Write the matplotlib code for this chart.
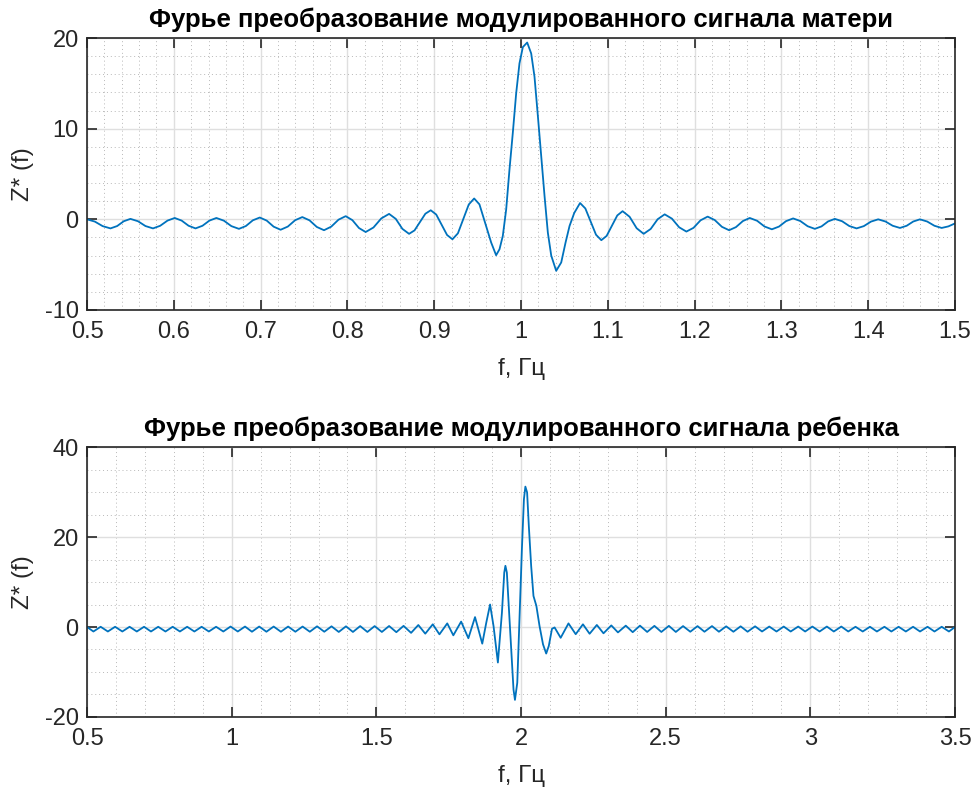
import numpy as np
import matplotlib
matplotlib.use('Agg')
import matplotlib.pyplot as plt
from matplotlib.ticker import MultipleLocator

plt.rcParams['font.family'] = ['Liberation Sans', 'DejaVu Sans']
plt.rcParams['axes.unicode_minus'] = False

# values
f_mother = [0.500, 0.509, 0.518, 0.527, 0.5347, 0.5423, 0.550, 0.5587, 0.5673, 0.576,
            0.5843, 0.5927, 0.601, 0.609, 0.617, 0.625, 0.633, 0.641, 0.649, 0.6577,
            0.6663, 0.675, 0.683, 0.691, 0.699, 0.707, 0.715, 0.723, 0.7313, 0.7397,
            0.748, 0.7563, 0.7647, 0.773, 0.7813, 0.7897, 0.798, 0.8057, 0.8133, 0.821,
            0.830, 0.839, 0.848, 0.8557, 0.8633, 0.871, 0.8773, 0.8835, 0.8898, 0.896,
            0.9023, 0.9085, 0.9148, 0.921, 0.9273, 0.9335, 0.9398, 0.946, 0.9521, 0.9598,
            0.9656, 0.9713, 0.9752, 0.979, 0.9829, 0.9867, 0.9905, 0.9944, 0.9982, 1.0021,
            1.0071, 1.0117, 1.0155, 1.0194, 1.0232, 1.0271, 1.0309, 1.0348, 1.0405, 1.0463,
            1.0513, 1.0559, 1.0613, 1.068, 1.0741, 1.0803, 1.0864, 1.0925, 1.0986, 1.1048,
            1.1109, 1.117, 1.1251, 1.1332, 1.1413, 1.1494, 1.1574, 1.1655, 1.1738, 1.1822,
            1.1905, 1.1987, 1.2068, 1.215, 1.2232, 1.2315, 1.2397, 1.2476, 1.2556, 1.2635,
            1.272, 1.2805, 1.289, 1.2972, 1.3053, 1.3135, 1.3218, 1.3302, 1.3385, 1.3462,
            1.3538, 1.3615, 1.3699, 1.3782, 1.3866, 1.3949, 1.4032, 1.4115, 1.4199, 1.4282,
            1.4366, 1.4443, 1.4519, 1.4596, 1.4679, 1.4763, 1.4846, 1.4923, 1.500]
z_mother = [0.0, -0.25, -0.75, -1.0, -0.74, -0.21, 0.05, -0.21, -0.74, -1.0,
            -0.71, -0.14, 0.15, -0.14, -0.71, -1.0, -0.71, -0.14, 0.15, -0.15,
            -0.75, -1.05, -0.74, -0.11, 0.2, -0.14, -0.81, -1.15, -0.80, -0.10,
            0.25, -0.11, -0.84, -1.2, -0.81, -0.04, 0.35, -0.09, -0.96, -1.4,
            -0.9, 0.1, 0.6, 0.05, -1.05, -1.6, -1.22, -0.3, 0.62, 1.0,
            0.53, -0.6, -1.73, -2.2, -1.54, 0.05, 1.64, 2.3, 1.65, -0.73,
            -2.56, -3.96, -3.3, -1.83, 1.1, 5.5, 9.5, 13.9, 17.2, 19.0,
            19.5, 18.3, 15.75, 11.4, 7.0, 2.56, -1.47, -4.0, -5.68, -4.76,
            -2.56, -0.73, 0.7, 1.8, 1.2, -0.25, -1.7, -2.3, -1.83, -0.7,
            0.43, 0.9, 0.28, -0.98, -1.6, -1.06, 0.01, 0.55, 0.08, -0.88,
            -1.35, -0.94, -0.11, 0.3, -0.08, -0.83, -1.2, -0.86, -0.19, 0.15,
            -0.16, -0.79, -1.1, -0.8, -0.2, 0.1, -0.19, -0.76, -1.05, -0.78,
            -0.23, 0.05, -0.21, -0.74, -1.0, -0.75, -0.25, 0.0, -0.24, -0.71,
            -0.95, -0.71, -0.24, 0.0, -0.24, -0.71, -0.95, -0.78, -0.45]

f_child = [0.500, 0.522, 0.547, 0.572, 0.597, 0.622, 0.647, 0.672, 0.697, 0.721,
           0.746, 0.771, 0.796, 0.821, 0.846, 0.871, 0.896, 0.921, 0.946, 0.971,
           0.996, 1.021, 1.046, 1.070, 1.095, 1.120, 1.145, 1.170, 1.195, 1.220,
           1.245, 1.270, 1.295, 1.320, 1.345, 1.370, 1.395, 1.419, 1.444, 1.469,
           1.494, 1.519, 1.544, 1.569, 1.594, 1.620, 1.645, 1.669, 1.695, 1.718,
           1.745, 1.766, 1.793, 1.818, 1.841, 1.866, 1.880, 1.893, 1.905, 1.920,
           1.934, 1.942, 1.946, 1.951, 1.955, 1.966, 1.974, 1.979, 1.987, 1.995,
           2.003, 2.010, 2.015, 2.021, 2.027, 2.035, 2.043, 2.053, 2.064, 2.076,
           2.087, 2.096, 2.107, 2.116, 2.137, 2.164, 2.189, 2.214, 2.237, 2.262,
           2.285, 2.312, 2.335, 2.362, 2.386, 2.411, 2.436, 2.461, 2.485, 2.511,
           2.535, 2.560, 2.585, 2.610, 2.634, 2.660, 2.684, 2.709, 2.734, 2.759,
           2.783, 2.809, 2.833, 2.858, 2.883, 2.908, 2.932, 2.958, 2.982, 3.007,
           3.032, 3.057, 3.081, 3.107, 3.131, 3.156, 3.181, 3.206, 3.230, 3.256,
           3.280, 3.305, 3.330, 3.355, 3.379, 3.405, 3.429, 3.454, 3.479, 3.500]
z_child = [0.0, -1.0, 0.05, -1.0, 0.05, -1.0, 0.05, -1.0, 0.05, -1.0,
           0.05, -1.0, 0.05, -1.0, 0.05, -1.0, 0.05, -1.0, 0.05, -1.0,
           0.1, -1.0, 0.1, -1.05, 0.1, -1.05, 0.1, -1.05, 0.1, -1.05,
           0.1, -1.05, 0.15, -1.05, 0.15, -1.1, 0.15, -1.1, 0.2, -1.1,
           0.2, -1.1, 0.22, -1.15, 0.25, -1.3, 0.44, -1.48, 0.6, -1.63,
           0.8, -1.85, 1.2, -2.5, 2.2, -3.7, 1.0, 5.0, 0.2, -7.9,
           3.2, 12.1, 13.6, 12.1, 7.6, -5.0, -13.9, -16.2, -12.4, 2.4,
           17.3, 28.4, 31.2, 29.9, 22.4, 13.6, 6.9, 4.7, 0.2, -3.85,
           -5.9, -4.2, -0.4, -0.1, -2.4, 0.8, -1.6, 0.6, -1.5, 0.45,
           -1.4, 0.35, -1.2, 0.3, -1.15, 0.3, -1.1, 0.25, -1.1, 0.25,
           -1.1, 0.2, -1.05, 0.2, -1.05, 0.2, -1.05, 0.15, -1.05, 0.15,
           -1.05, 0.15, -1.0, 0.1, -1.0, 0.1, -1.0, 0.1, -1.0, 0.1,
           -1.0, 0.1, -1.0, 0.1, -1.0, 0.05, -1.0, 0.05, -1.0, 0.05,
           -1.0, 0.05, -1.0, 0.05, -1.0, 0.05, -1.0, 0.05, -1.0, 0.0]

xt_mother = [0.5, 0.6, 0.7, 0.8, 0.9, 1.0, 1.1, 1.2, 1.3, 1.4, 1.5]
xl_mother = ['0.5', '0.6', '0.7', '0.8', '0.9', '1', '1.1', '1.2', '1.3', '1.4', '1.5']
yt_mother = [-10, 0, 10, 20]
xt_child = [0.5, 1, 1.5, 2, 2.5, 3, 3.5]
xl_child = ['0.5', '1', '1.5', '2', '2.5', '3', '3.5']
yt_child = [-20, 0, 20, 40]

title_mother = 'Фурье преобразование модулированного сигнала матери'
title_child = 'Фурье преобразование модулированного сигнала ребенка'

dark = '#262626'
blue = '#0072BD'


def matlab_style(ax, xt, xl, yt, xminor, yminor):
    ax.set_xticks(xt)
    ax.set_xticklabels(xl)
    ax.set_yticks(yt)
    ax.xaxis.set_minor_locator(MultipleLocator(xminor))
    ax.yaxis.set_minor_locator(MultipleLocator(yminor))
    ax.grid(True, which='major', color='#dfdfdf', lw=1.0)
    ax.grid(True, which='minor', color='#b8b8b8', ls=(0, (1, 3)), lw=0.7)
    ax.set_axisbelow(True)
    ax.tick_params(which='major', direction='in', top=True, right=True, length=7,
                   width=1.2, colors=dark, labelsize=17)
    ax.tick_params(axis='x', pad=8)
    ax.tick_params(axis='y', pad=6)
    ax.tick_params(which='minor', length=0)
    for s in ax.spines.values():
        s.set_color(dark)
        s.set_linewidth(1.2)


fig = plt.figure(figsize=(9.78, 7.92), dpi=100)

ax1 = fig.add_axes([0.089, 0.6086, 0.8875, 0.3434])
ax1.plot(f_mother, z_mother, color=blue, lw=1.3)
ax1.set_xlim(0.5, 1.5)
ax1.set_ylim(-10, 20)
matlab_style(ax1, xt_mother, xl_mother, yt_mother, 0.02, 2)
ax1.set_title(title_mother, fontsize=18.5, fontweight='bold', color='black', pad=8)
ax1.set_xlabel('f, Гц', fontsize=17.5, color=dark, labelpad=11)
ax1.set_ylabel('Z* (f)', fontsize=17.5, color=dark, labelpad=8)

ax2 = fig.add_axes([0.089, 0.0947, 0.8875, 0.3409])
ax2.plot(f_child, z_child, color=blue, lw=1.3)
ax2.set_xlim(0.5, 3.5)
ax2.set_ylim(-20, 40)
matlab_style(ax2, xt_child, xl_child, yt_child, 0.1, 5)
ax2.set_title(title_child, fontsize=18.5, fontweight='bold', color='black', pad=8)
ax2.set_xlabel('f, Гц', fontsize=17.5, color=dark, labelpad=11)
ax2.set_ylabel('Z* (f)', fontsize=17.5, color=dark, labelpad=8)

fig.savefig('out.png', dpi=100, facecolor='white')
